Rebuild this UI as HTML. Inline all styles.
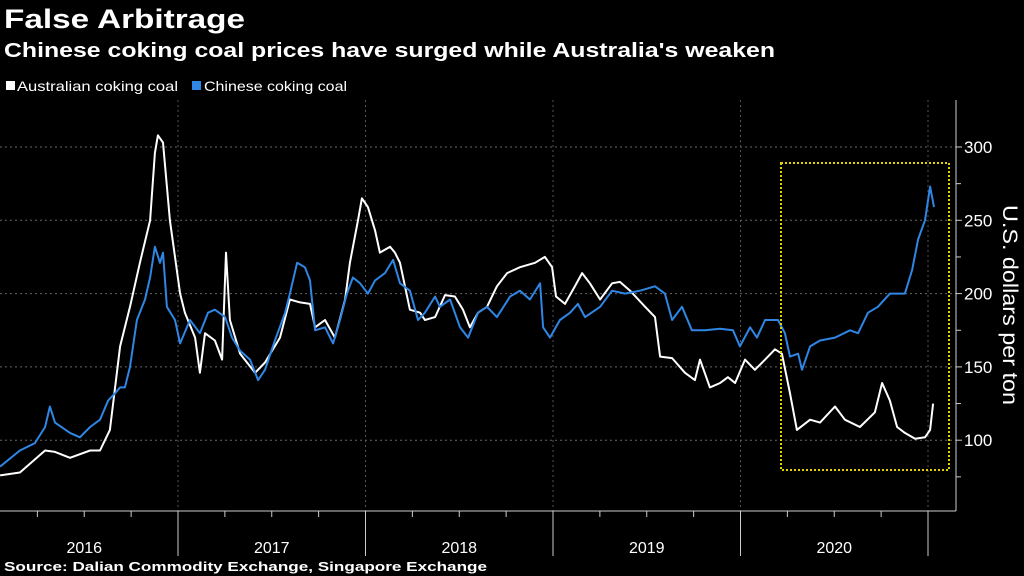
<!DOCTYPE html>
<html><head><meta charset="utf-8"><style>
body{margin:0;background:#000;width:1024px;height:576px;overflow:hidden;font-family:"Liberation Sans",sans-serif;color:#fff}
svg{position:absolute;left:0;top:0}
</style></head><body>
<svg width="1024" height="576" id="c">
<text x="4" y="28" font-size="27" font-weight="bold" fill="#fff" textLength="241" lengthAdjust="spacingAndGlyphs">False Arbitrage</text>
<text x="4" y="57" font-size="20" font-weight="bold" fill="#fff" textLength="771" lengthAdjust="spacingAndGlyphs">Chinese coking coal prices have surged while Australia's weaken</text>
<rect x="6" y="81" width="9" height="9" fill="#fff"/>
<text x="17" y="91" font-size="14" fill="#fff" textLength="161" lengthAdjust="spacingAndGlyphs">Australian coking coal</text>
<rect x="192" y="81" width="9" height="9" fill="#2f86e4"/>
<text x="204" y="91" font-size="14" fill="#fff" textLength="143" lengthAdjust="spacingAndGlyphs">Chinese coking coal</text>
<text x="4" y="571" font-size="13" font-weight="bold" fill="#fff" textLength="483" lengthAdjust="spacingAndGlyphs">Source: Dalian Commodity Exchange, Singapore Exchange</text>
<text transform="translate(1003,305) rotate(90)" font-size="21" fill="#fff" text-anchor="middle" textLength="200" lengthAdjust="spacingAndGlyphs">U.S. dollars per ton</text>
<g id="grid"></g><g id="axes"></g><g id="series"></g>
<rect x="781" y="163" width="168" height="307" fill="none" stroke="#e5d300" stroke-width="2" stroke-dasharray="2,2"/>
</svg>
<script>
const yTicks=[300,250,200,150,100];
const yMinor=[275,225,175,125,75];
const years=["2016","2017","2018","2019","2020"];
const ausDates=[2016.051,2016.157,2016.291,2016.344,2016.424,2016.531,2016.584,2016.637,2016.691,2016.744,2016.797,2016.851,2016.877,2016.893,2016.920,2016.957,2017.011,2017.037,2017.091,2017.117,2017.144,2017.197,2017.235,2017.256,2017.277,2017.331,2017.411,2017.464,2017.544,2017.597,2017.651,2017.704,2017.731,2017.784,2017.837,2017.891,2017.917,2017.960,2017.981,2018.013,2018.051,2018.077,2018.131,2018.157,2018.184,2018.237,2018.291,2018.317,2018.371,2018.424,2018.477,2018.520,2018.557,2018.600,2018.648,2018.701,2018.755,2018.824,2018.904,2018.957,2018.995,2019.016,2019.064,2019.117,2019.155,2019.197,2019.251,2019.315,2019.357,2019.411,2019.491,2019.544,2019.571,2019.635,2019.704,2019.757,2019.784,2019.837,2019.891,2019.933,2019.971,2020.024,2020.077,2020.131,2020.184,2020.221,2020.264,2020.301,2020.371,2020.424,2020.504,2020.557,2020.637,2020.717,2020.755,2020.797,2020.835,2020.877,2020.931,2020.984,2021.011,2021.027];
const ausVals=[76,78,93,92,88,93,93,107,164,191,221,250,296,308,303,250,200,187,170,146,173,168,155,228,182,159,146,153,170,196,194,193,177,182,170,196,221,250,265,259,243,228,232,228,221,189,187,182,184,199,198,189,177,187,191,205,214,218,221,225,218,198,193,205,214,207,196,207,208,202,191,184,157,156,146,141,155,136,139,143,139,155,148,155,162,159,132,107,114,112,123,114,109,119,139,127,109,105,101,102,107,125];
const chnDates=[2016.051,2016.157,2016.237,2016.291,2016.317,2016.344,2016.424,2016.477,2016.531,2016.584,2016.627,2016.664,2016.691,2016.717,2016.744,2016.781,2016.824,2016.851,2016.877,2016.904,2016.920,2016.941,2016.984,2017.011,2017.064,2017.117,2017.160,2017.197,2017.251,2017.288,2017.331,2017.384,2017.427,2017.464,2017.517,2017.571,2017.597,2017.635,2017.677,2017.704,2017.731,2017.784,2017.827,2017.864,2017.901,2017.933,2017.971,2018.013,2018.051,2018.104,2018.147,2018.184,2018.237,2018.280,2018.317,2018.371,2018.397,2018.451,2018.504,2018.547,2018.600,2018.648,2018.701,2018.771,2018.824,2018.877,2018.931,2018.947,2018.984,2019.037,2019.091,2019.133,2019.171,2019.251,2019.315,2019.384,2019.464,2019.544,2019.597,2019.635,2019.688,2019.741,2019.811,2019.891,2019.960,2019.997,2020.051,2020.088,2020.131,2020.200,2020.237,2020.264,2020.307,2020.328,2020.371,2020.424,2020.504,2020.584,2020.627,2020.680,2020.733,2020.797,2020.877,2020.915,2020.947,2020.984,2021.011,2021.032];
const chnVals=[82,93,98,109,123,112,105,102,109,114,127,132,136,136,150,182,196,211,232,221,228,191,182,166,182,173,187,189,184,170,161,155,141,148,168,187,200,221,218,209,175,177,166,182,200,211,207,200,209,214,223,207,202,182,187,198,191,196,177,170,187,191,184,198,202,196,207,177,170,182,187,193,184,191,202,200,202,205,200,182,191,175,175,176,175,164,177,170,182,182,173,157,159,148,164,168,170,175,173,187,191,200,200,216,237,250,273,259];
const NS="http://www.w3.org/2000/svg";
const X0=178,YW=187.5,Y0=147,PPU=1.466;
const xs=d=>X0+(d-2017)*YW;
const ys=v=>Y0+(300-v)*PPU;
const grid=document.getElementById('grid'),axes=document.getElementById('axes'),ser=document.getElementById('series');
function mk(tag,attrs,parent){const e=document.createElementNS(NS,tag);for(const k in attrs)e.setAttribute(k,attrs[k]);parent.appendChild(e);return e;}
yTicks.forEach(v=>{
 const l=mk('line',{x1:0,x2:956,y1:ys(v),y2:ys(v),stroke:'#666','stroke-width':1,'stroke-dasharray':'2,3'},grid);
 
 
 const t=mk('line',{x1:956,x2:962,y1:ys(v),y2:ys(v),stroke:'#ccc'},axes);
 
 
 const tx=mk('text',{x:964,y:ys(v)+6,'font-size':17,fill:'#fff'},axes);tx.textContent=v;
 
 
});
yMinor.forEach(v=>{
 const t=mk('line',{x1:956,x2:961,y1:ys(v),y2:ys(v),stroke:'#ccc'},axes);
 
 
});
mk('line',{x1:956,x2:956,y1:100,y2:511,stroke:'#ccc'},axes);
mk('line',{x1:0,x2:956,y1:511,y2:511,stroke:'#ccc'},axes);
for(let y=2016;y<=2021;y++){
 const x=xs(y);
 if(y>2016){
  const g=mk('line',{x1:x,x2:x,y1:100,y2:511,stroke:'#555','stroke-dasharray':'2,3'},grid);
  
  
  const t=mk('line',{x1:x,x2:x,y1:511,y2:556,stroke:'#ccc'},axes);
  
  
 }
 for(let q=1;q<4;q++){const qx=xs(y+q/4);if(qx<956){const t=mk('line',{x1:qx,x2:qx,y1:511,y2:517,stroke:'#ccc'},axes);
  
  }}
}
years.forEach((yr,i)=>{
 const t=mk('text',{x:xs(+yr+0.5),y:553,'font-size':16,fill:'#fff','text-anchor':'middle'},axes);t.textContent=yr;
 
 
});
function line(d,v,col,name){
 const p=d.map((dd,i)=>(i?'L':'M')+xs(dd).toFixed(1)+','+ys(v[i]).toFixed(1)).join('');
 const e=mk('path',{d:p,fill:'none',stroke:col,'stroke-width':2,'stroke-linejoin':'round'},ser);
 
 
}
line(ausDates,ausVals,'#ffffff','line-australian-coking-coal');
line(chnDates,chnVals,'#2f86e4','line-chinese-coking-coal');
</script>
</body></html>
